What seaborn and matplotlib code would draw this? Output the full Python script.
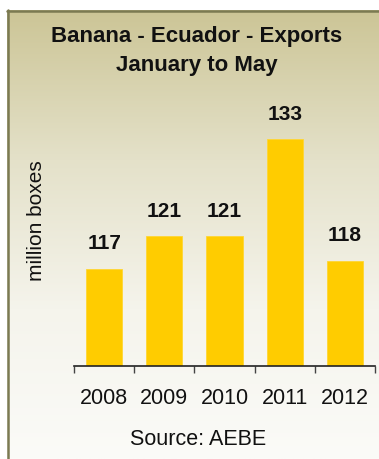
import numpy as np
import pandas as pd
import matplotlib
matplotlib.use("Agg")
import matplotlib.pyplot as plt
from matplotlib.colors import LinearSegmentedColormap
import seaborn as sns

years = ["2008", "2009", "2010", "2011", "2012"]
exports = [117, 121, 121, 133, 118]
title_lines = ["Banana - Ecuador - Exports", "January to May"]
ylabel_text = "million boxes"
source_text = "Source: AEBE"

sns.set_theme(style="white")
plt.rcParams["font.family"] = ["Liberation Sans", "DejaVu Sans"]

W, H = 379, 459
fig = plt.figure(figsize=(W / 100, H / 100), dpi=100)
fig.patch.set_facecolor("white")

def fx(px):
    return px / W

def fy(py):
    return 1 - py / H

# gradient background panel
bg = fig.add_axes([fx(7), 0, 1 - fx(7), fy(10)])
grad = np.linspace(0, 1, 256).reshape(-1, 1)
cmap = LinearSegmentedColormap.from_list("bg", ["#CCC596", "#E4E1C9", "#F5F4EC", "#FBFBF8"])
bg.imshow(grad, aspect="auto", cmap=cmap, extent=[0, 1, 0, 1], origin="upper")
bg.set_axis_off()
# border (top and left)
fig.add_artist(plt.Line2D([fx(7), 1], [fy(10.5), fy(10.5)], color="#7B7A52", lw=1.8))
fig.add_artist(plt.Line2D([fx(7.5), fx(7.5)], [0, fy(10)], color="#7B7A52", lw=1.8))

# main axes
ax_bottom_px, ax_top_px = 366, 98.4
ax = fig.add_axes([fx(74), fy(ax_bottom_px), fx(375) - fx(74), (ax_bottom_px - ax_top_px) / H])
ax.patch.set_alpha(0)

df = pd.DataFrame({"year": years, "value": exports})
sns.barplot(data=df, x="year", y="value", color="#FFCC00", width=0.6,
            saturation=1, ax=ax, edgecolor="#FFD633", linewidth=0.6)

ax.set_ylim(105, 138)
ax.set_xlim(-0.5, len(years) - 0.5)
ax.set_xlabel("")
ax.set_ylabel("")
ax.set_yticks([])
for s in ["top", "right", "left"]:
    ax.spines[s].set_visible(False)
ax.spines["bottom"].set_color("#222222")
ax.spines["bottom"].set_linewidth(1.2)

ax.set_xticks(np.arange(len(years) + 1) - 0.5)
ax.set_xticklabels([])
ax.tick_params(axis="x", which="major", direction="out", length=5, width=1.0,
               color="#444444", bottom=True)
ax.set_xticks(np.arange(len(years)), minor=True)
ax.set_xticklabels(years, minor=True)
ax.tick_params(axis="x", which="minor", length=0, pad=16, labelsize=15.5, labelcolor="#111111")

for i, v in enumerate(exports):
    ax.annotate(f"{v}", (i, v), xytext=(0, 11), textcoords="offset points",
                ha="center", va="bottom", fontsize=15, fontweight="bold", color="#111111")

fig.text(fx(197), fy(42), title_lines[0], ha="center", va="baseline", fontsize=16,
         fontweight="bold", color="#111111")
fig.text(fx(197), fy(71), title_lines[1], ha="center", va="baseline", fontsize=16,
         fontweight="bold", color="#111111")
fig.text(fx(36), fy(221), ylabel_text, ha="center", va="center", rotation=90,
         fontsize=15, color="#111111")
fig.text(fx(198), fy(445), source_text, ha="center", va="baseline", fontsize=15.5,
         color="#111111")

fig.savefig("out.png", dpi=100)
